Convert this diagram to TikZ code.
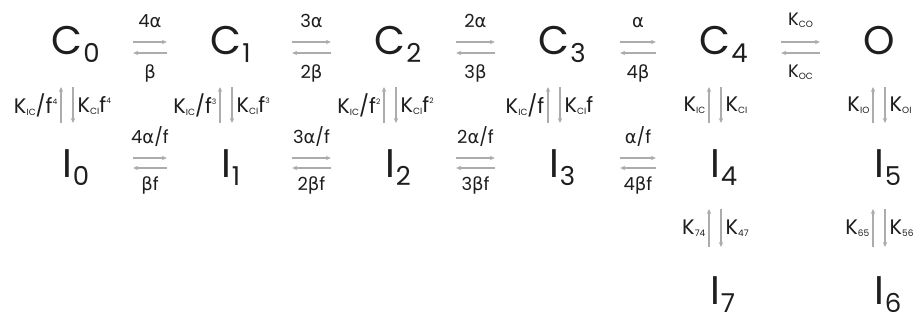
\documentclass[tikz,border=0pt]{standalone}
\usepackage{fontspec}
\setmainfont{Poppins}
\newfontfamily\greekfont{DejaVu Sans}
\usetikzlibrary{arrows.meta,positioning}
\definecolor{arrowgray}{RGB}{172,172,172}
\definecolor{textdark}{RGB}{30,30,30}

\newcommand{\gal}{{\greekfont α}}
\newcommand{\gbe}{{\greekfont β}}
\newcommand{\ksub}[1]{K\raisebox{-2pt}{\fontsize{9}{9}\selectfont #1}}
\newcommand{\fpow}[1]{f\raisebox{9pt}{\fontsize{7.5}{7.5}\selectfont #1}}
\newcommand{\stname}[2]{#1\rlap{\kern1pt\raisebox{-8pt}{\fontsize{26}{26}\selectfont #2}}}

\begin{document}
\begin{tikzpicture}[
    x=1pt,y=1pt,
    state/.style={inner sep=0pt,minimum width=125pt,anchor=base,text=textdark,
                  font=\fontsize{40}{40}\selectfont},
    fwd/.style={arrowgray,line width=1.3pt,-{Stealth[length=5pt,width=4.5pt]}},
    up/.style={fwd,shorten <=54pt,shorten >=32pt},
    down/.style={fwd,shorten <=32pt,shorten >=54pt},
    rate/.style={inner sep=0pt,text=textdark,font=\fontsize{18}{18}\selectfont},
    klab/.style={inner sep=0pt,text=textdark,font=\fontsize{21}{21}\selectfont}
]
    \useasboundingbox (0,0) rectangle (918,-329);

    % closed states
    \node[state] (c0) at (67,-55) {\stname{C}{0}};
    \node[state] (c1) at (226,-55) {\stname{C}{1}};
    \node[state] (c2) at (390,-55) {\stname{C}{2}};
    \node[state] (c3) at (554,-55) {\stname{C}{3}};
    \node[state] (c4) at (715,-55) {\stname{C}{4}};
    \node[state] (open) at (879,-55) {O};
    % inactivated states
    \node[state] (i0) at (67,-177) {\stname{I}{0}};
    \node[state] (i1) at (226,-177) {\stname{I}{1}};
    \node[state] (i2) at (390,-177) {\stname{I}{2}};
    \node[state] (i3) at (554,-177) {\stname{I}{3}};
    \node[state] (i4) at (715,-177) {\stname{I}{4}};
    \node[state] (i5) at (879,-177) {\stname{I}{5}};
    \node[state] (i7) at (715,-304) {\stname{I}{7}};
    \node[state] (i6) at (879,-304) {\stname{I}{6}};

    % C row
    \draw[fwd] ([shift={(3.5,13)}]c0.base east) -- node[rate,above=14pt]{4\gal} ([shift={(3.5,13)}]c1.base west);
    \draw[fwd] ([shift={(3.5,2)}]c1.base west) -- node[rate,below=11pt]{\gbe} ([shift={(3.5,2)}]c0.base east);
    \draw[fwd] ([shift={(3.5,13)}]c1.base east) -- node[rate,above=14pt]{3\gal} ([shift={(3.5,13)}]c2.base west);
    \draw[fwd] ([shift={(3.5,2)}]c2.base west) -- node[rate,below=11pt]{2\gbe} ([shift={(3.5,2)}]c1.base east);
    \draw[fwd] ([shift={(3.5,13)}]c2.base east) -- node[rate,above=14pt]{2\gal} ([shift={(3.5,13)}]c3.base west);
    \draw[fwd] ([shift={(3.5,2)}]c3.base west) -- node[rate,below=11pt]{3\gbe} ([shift={(3.5,2)}]c2.base east);
    \draw[fwd] ([shift={(3.5,13)}]c3.base east) -- node[rate,above=14pt]{\gal} ([shift={(3.5,13)}]c4.base west);
    \draw[fwd] ([shift={(3.5,2)}]c4.base west) -- node[rate,below=11pt]{4\gbe} ([shift={(3.5,2)}]c3.base east);
    \draw[fwd] ([shift={(3.5,13)}]c4.base east) -- node[rate,above=14pt]{\ksub{CO}} ([shift={(3.5,13)}]open.base west);
    \draw[fwd] ([shift={(3.5,2)}]open.base west) -- node[rate,below=11pt]{\ksub{OC}} ([shift={(3.5,2)}]c4.base east);

    % I row
    \draw[fwd] ([shift={(3.5,19)}]i0.base east) -- node[rate,above=11pt]{4\gal/f} ([shift={(3.5,19)}]i1.base west);
    \draw[fwd] ([shift={(3.5,9)}]i1.base west) -- node[rate,below=8pt]{\gbe f} ([shift={(3.5,9)}]i0.base east);
    \draw[fwd] ([shift={(3.5,19)}]i1.base east) -- node[rate,above=11pt]{3\gal/f} ([shift={(3.5,19)}]i2.base west);
    \draw[fwd] ([shift={(3.5,9)}]i2.base west) -- node[rate,below=8pt]{2\gbe f} ([shift={(3.5,9)}]i1.base east);
    \draw[fwd] ([shift={(3.5,19)}]i2.base east) -- node[rate,above=11pt]{2\gal/f} ([shift={(3.5,19)}]i3.base west);
    \draw[fwd] ([shift={(3.5,9)}]i3.base west) -- node[rate,below=8pt]{3\gbe f} ([shift={(3.5,9)}]i2.base east);
    \draw[fwd] ([shift={(3.5,19)}]i3.base east) -- node[rate,above=11pt]{\gal/f} ([shift={(3.5,19)}]i4.base west);
    \draw[fwd] ([shift={(3.5,9)}]i4.base west) -- node[rate,below=8pt]{4\gbe f} ([shift={(3.5,9)}]i3.base east);

    % C <-> I
    \draw[up] ([xshift=-6]i0.base) -- node[klab,pos=0.59,left=3pt]{\ksub{IC}/\fpow{4}} ([xshift=-6]c0.base);
    \draw[down] ([xshift=6]c0.base) -- node[klab,pos=0.41,right=4pt]{\ksub{CI}\fpow{4}} ([xshift=6]i0.base);
    \draw[up] ([xshift=-6]i1.base) -- node[klab,pos=0.59,left=3pt]{\ksub{IC}/\fpow{3}} ([xshift=-6]c1.base);
    \draw[down] ([xshift=6]c1.base) -- node[klab,pos=0.41,right=4pt]{\ksub{CI}\fpow{3}} ([xshift=6]i1.base);
    \draw[up] ([xshift=-6]i2.base) -- node[klab,pos=0.59,left=3pt]{\ksub{IC}/\fpow{2}} ([xshift=-6]c2.base);
    \draw[down] ([xshift=6]c2.base) -- node[klab,pos=0.41,right=4pt]{\ksub{CI}\fpow{2}} ([xshift=6]i2.base);
    \draw[up] ([xshift=-6]i3.base) -- node[klab,pos=0.59,left=3pt]{\ksub{IC}/f} ([xshift=-6]c3.base);
    \draw[down] ([xshift=6]c3.base) -- node[klab,pos=0.41,right=4pt]{\ksub{CI}f} ([xshift=6]i3.base);
    \draw[up] ([xshift=-6]i4.base) -- node[klab,pos=0.59,left=3pt]{\ksub{IC}} ([xshift=-6]c4.base);
    \draw[down] ([xshift=6]c4.base) -- node[klab,pos=0.41,right=4pt]{\ksub{CI}} ([xshift=6]i4.base);
    \draw[up] ([xshift=-6]i5.base) -- node[klab,pos=0.59,left=3pt]{\ksub{IO}} ([xshift=-6]open.base);
    \draw[down] ([xshift=6]open.base) -- node[klab,pos=0.41,right=4pt]{\ksub{OI}} ([xshift=6]i5.base);

    % lower inactivated states
    \draw[up,shorten <=57pt] ([xshift=-6]i7.base) -- node[klab,pos=0.60,left=3pt]{\ksub{74}} ([xshift=-6]i4.base);
    \draw[down,shorten >=57pt] ([xshift=6]i4.base) -- node[klab,pos=0.40,right=4pt]{\ksub{47}} ([xshift=6]i7.base);
    \draw[up,shorten <=57pt] ([xshift=-6]i6.base) -- node[klab,pos=0.60,left=3pt]{\ksub{65}} ([xshift=-6]i5.base);
    \draw[down,shorten >=57pt] ([xshift=6]i5.base) -- node[klab,pos=0.40,right=4pt]{\ksub{56}} ([xshift=6]i6.base);
\end{tikzpicture}
\end{document}
